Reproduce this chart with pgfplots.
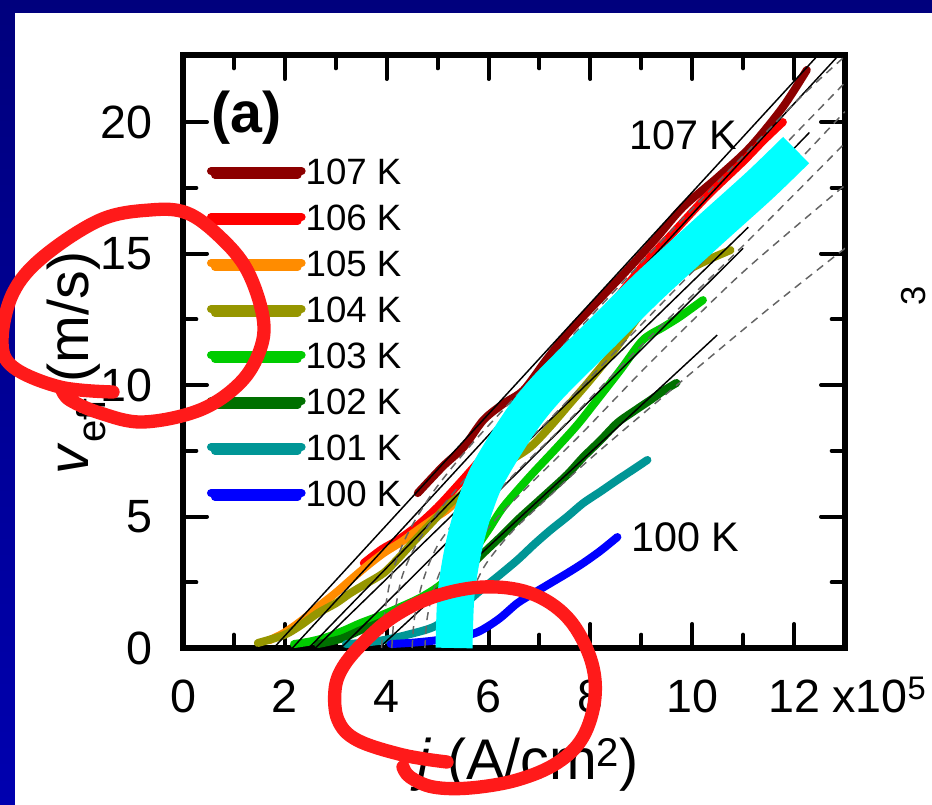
\documentclass[border=0pt]{standalone}
\usepackage{pgfplots}
\pgfplotsset{compat=1.18}
\usepackage{fontspec}
\setmainfont{Liberation Sans}

\definecolor{c107}{RGB}{140,0,0}
\definecolor{c106}{RGB}{255,0,0}
\definecolor{c105}{RGB}{255,140,0}
\definecolor{c104}{RGB}{150,150,0}
\definecolor{c103}{RGB}{0,204,0}
\definecolor{c102}{RGB}{0,112,0}
\definecolor{c101}{RGB}{0,150,150}
\definecolor{c100}{RGB}{0,0,255}
\definecolor{hilite}{RGB}{0,255,255}
\definecolor{marker}{RGB}{255,26,26}
\definecolor{frametop}{RGB}{0,0,125}
\definecolor{framebot}{RGB}{0,0,175}
\definecolor{fitgray}{RGB}{100,100,100}

\pgfplotsset{
  vcurve/.style={line width=6pt, line cap=round, line join=round, smooth},
  linfit/.style={black, line width=1.1pt, forget plot},
  modfit/.style={fitgray, line width=1.1pt, dash pattern=on 6pt off 4.5pt, smooth, forget plot},
}

\begin{document}
\begin{tikzpicture}
\clip (0,0) rectangle (699pt,603pt);
\shade[top color=frametop, bottom color=framebot] (0,0) rectangle (699pt,603pt);
\begin{scope}[x=0.75pt,y=-0.75pt,shift={(0,603pt)}]
  \fill[white] (15,13) rectangle (940,810);
\end{scope}

\begin{axis}[
  at={(137.25pt,117pt)}, anchor=south west,
  scale only axis, width=496.5pt, height=444.75pt,
  xmin=0, xmax=13, ymin=0, ymax=22.55,
  xtick={0,2,...,12}, ytick={0,5,...,20},
  minor xtick={1,3,...,11}, minor ytick={2.5,7.5,12.5,17.5},
  major tick length=18pt, minor tick length=10pt,
  tick style={line width=3pt, black, line cap=round},
  axis line style={line width=5pt},
  /pgf/number format/assume math mode=true,
  tick label style={font=\fontsize{35}{40}\selectfont, inner sep=0pt},
  xticklabel style={yshift=-24pt},
  yticklabel style={xshift=-23pt},
  legend style={at={(axis cs:0.471,18.64)}, anchor=north west, draw=none, fill=none,
    inner sep=0pt, outer sep=0pt, font=\fontsize{27.5}{30}\selectfont,
    row sep=14.5pt, column sep=0pt,
    nodes={inner sep=0pt, text height=20pt, text depth=0pt}},
  legend cell align=left,
  legend image code/.code={%
    \path (0pt,0pt) -- (68pt,0pt);
    \draw[#1, line cap=round, line width=6pt, overlay] (3pt,-2.75pt) -- (65pt,-2.75pt);},
]

% measured velocity curves
\addplot[vcurve, c107] coordinates {(4.61,5.89) (5.1,6.9) (5.51,7.64) (5.90,8.67) (6.3,9.3) (6.69,9.81) (7.15,11.0) (7.61,12.09) (8.2,13.3) (8.78,14.49) (9.3,15.6) (9.82,16.77) (10.5,17.9) (11.14,19.05) (11.78,20.57) (12.25,21.98)};
\addlegendentry{107 K}
\addplot[vcurve, c106] coordinates {(3.55,3.23) (3.9,3.75) (4.22,4.11) (4.6,4.65) (5.0,5.36) (5.4,6.2) (5.78,7.03) (6.2,8.0) (6.6,8.9) (7.1,10.0) (7.6,11.1) (8.1,12.3) (8.6,13.5) (9.1,14.7) (9.63,15.8) (10.3,17.2) (11.0,18.5) (11.4,19.3) (11.78,20.0)};
\addlegendentry{106 K}
\addplot[vcurve, c105] coordinates {(1.7,0.3) (1.98,0.57) (2.3,1.0) (2.65,1.56) (3.0,2.1) (3.29,2.59) (3.6,3.1) (3.94,3.61) (4.3,4.05) (4.61,4.49) (4.95,4.95) (5.25,5.36) (5.59,6.12) (6.0,7.0) (6.6,8.3) (7.3,9.6) (8.0,11.0) (8.8,12.6) (9.6,14.2) (10.4,15.8) (11.2,17.5)};
\addlegendentry{105 K}
\addplot[vcurve, c104] coordinates {(1.47,0.19) (1.98,0.49) (2.3,0.85) (2.65,1.33) (3.0,1.7) (3.29,2.09) (3.6,2.45) (3.94,2.85) (4.2,3.35) (4.47,3.92) (4.85,4.7) (5.25,5.51) (5.6,6.0) (6.0,6.6) (6.4,7.1) (6.82,7.64) (7.2,8.4) (7.6,9.3) (8.0,10.2) (8.5,11.4) (9.04,12.85) (9.45,13.6) (9.82,14.26) (10.3,14.75) (10.75,15.13)};
\addlegendentry{104 K}
\addplot[vcurve, c103] coordinates {(2.18,0.15) (2.5,0.25) (2.84,0.42) (3.2,0.7) (3.49,0.95) (3.9,1.25) (4.27,1.56) (4.65,1.9) (5.0,2.32) (5.35,2.9) (5.65,3.54) (6.0,4.5) (6.29,5.36) (6.8,6.5) (7.35,7.64) (7.75,8.5) (8.13,9.43) (8.6,10.6) (9.03,11.71) (9.43,12.2) (9.76,12.6) (10.21,13.23)};
\addlegendentry{103 K}
\addplot[vcurve, c102] coordinates {(2.65,0.15) (3.1,0.35) (3.49,0.68) (3.9,1.0) (4.27,1.37) (4.65,1.75) (5.06,2.21) (5.5,2.85) (5.90,3.61) (6.25,4.25) (6.57,4.87) (6.9,5.45) (7.22,6.01) (7.55,6.6) (7.86,7.26) (8.2,7.9) (8.53,8.56) (8.85,9.0) (9.18,9.43) (9.45,9.8) (9.69,10.08)};
\addlegendentry{102 K}
\addplot[vcurve, c101] coordinates {(3.2,0.15) (3.55,0.2) (3.94,0.3) (4.4,0.5) (4.92,0.8) (5.35,1.35) (5.78,2.09) (6.2,2.75) (6.57,3.35) (6.9,3.95) (7.22,4.49) (7.55,5.0) (7.86,5.51) (8.2,5.95) (8.53,6.39) (8.85,6.8) (9.12,7.15)};
\addlegendentry{101 K}
\addplot[vcurve, c100] coordinates {(4.08,0.15) (4.5,0.2) (4.92,0.28) (5.35,0.4) (5.78,0.6) (6.2,1.1) (6.57,1.71) (6.9,2.1) (7.22,2.47) (7.55,2.85) (7.86,3.23) (8.2,3.7) (8.53,4.22)};
\addlegendentry{100 K}

% linear fits
\addplot[linfit] coordinates {(1.78,0) (13,23.66)};
\addplot[linfit] coordinates {(2.15,0) (13,22.8)};
\addplot[linfit] coordinates {(2.47,0) (12.3,19.6)};
\addplot[linfit] coordinates {(2.6,0) (11.1,16.0)};
\addplot[linfit] coordinates {(3.1,0) (11.0,15.2)};
\addplot[linfit] coordinates {(3.85,0) (10.49,11.9)};

% creep-model fits
\addplot[modfit] coordinates {(3.9,0) (3.95,1.2) (4.1,2.8) (4.4,4.3) (4.9,5.9) (5.6,7.6) (6.5,9.5) (8,12.6) (10,16.7) (12,20.7) (13,22.5)};
\addplot[modfit] coordinates {(4.1,0) (4.15,1.2) (4.3,2.7) (4.6,4.0) (5.1,5.4) (5.8,7.0) (6.8,9.0) (8.5,12.4) (10.5,16.5) (13,21.5)};
\addplot[modfit] coordinates {(4.5,0) (4.55,1.2) (4.72,2.6) (5.0,3.9) (5.5,5.2) (6.2,6.8) (7.2,8.7) (9,12.3) (11,16.3) (13,20.4)};
\addplot[modfit] coordinates {(4.75,0) (4.8,1.2) (4.97,2.5) (5.25,3.7) (5.75,5.0) (6.5,6.6) (7.5,8.5) (9,11.5) (11,15.3) (13,19.2)};
\addplot[modfit] coordinates {(5.1,0) (5.15,1.1) (5.32,2.3) (5.6,3.5) (6.1,4.8) (6.8,6.2) (7.8,8.1) (9.2,10.9) (11,14.3) (13,17.6)};
\addplot[modfit] coordinates {(5.45,0) (5.5,1.0) (5.67,2.1) (5.95,3.2) (6.45,4.4) (7.1,5.6) (8,7.2) (9.7,10.0) (11.5,12.9) (13,15.2)};

% highlighted crossover band
\addplot[hilite, line width=27.75pt, line cap=butt, smooth, forget plot] coordinates {(5.322,0) (5.361,2.015) (5.499,3.726) (5.695,5.171) (5.931,6.388) (6.265,7.529) (6.716,8.859) (7.207,10.0) (8.229,11.977) (9.132,13.726) (10.35,15.894) (11.33,17.605) (12.04,18.935)};

\node[font=\bfseries\fontsize{43}{46}\selectfont] at (axis cs:1.24,20.15) {(a)};
\node[font=\fontsize{31}{34}\selectfont] at (axis cs:9.82,19.5) {107 K};
\node[font=\fontsize{31}{34}\selectfont] at (axis cs:9.86,4.22) {100 K};
\end{axis}

\begin{scope}[x=0.75pt,y=-0.75pt,shift={(0,603pt)}]
  \node[font=\fontsize{43}{46}\selectfont, anchor=base] at (528,779) {\textit{j} (A/cm\textsuperscript{2})};
  \node[font=\fontsize{43}{46}\selectfont, anchor=base, rotate=90] at (88,363) {\textit{v}\textsubscript{eff} (m/s)};
  \node[font=\fontsize{35}{40}\selectfont, anchor=base west, inner sep=0pt] at (832,712) {x10\textsuperscript{5}};
  \node[font=\fontsize{26}{30}\selectfont, anchor=base, rotate=90, inner sep=0pt] at (925,296) {3};
  % hand-drawn emphasis loops
  \draw[marker, line width=10pt, line cap=round, line join=round] plot[smooth, tension=0.6] coordinates {
    (113,392) (60,387) (13,367) (2,340) (13,293) (43,257) (100,220) (150,210) (187,213)
    (220,237) (247,270) (263,317) (260,350) (240,383) (200,410) (143,422) (100,413) (70,400) (62,390)};
  \draw[marker, line width=10pt, line cap=round, line join=round] plot[smooth, tension=0.6] coordinates {
    (447,762) (403,755) (357,740) (338,720) (335,690) (343,667) (363,643) (393,617) (433,597)
    (483,587) (530,593) (567,617) (590,657) (595,697) (583,737) (557,763) (517,780) (470,788)
    (433,787) (410,777) (403,767)};
\end{scope}
\end{tikzpicture}
\end{document}
